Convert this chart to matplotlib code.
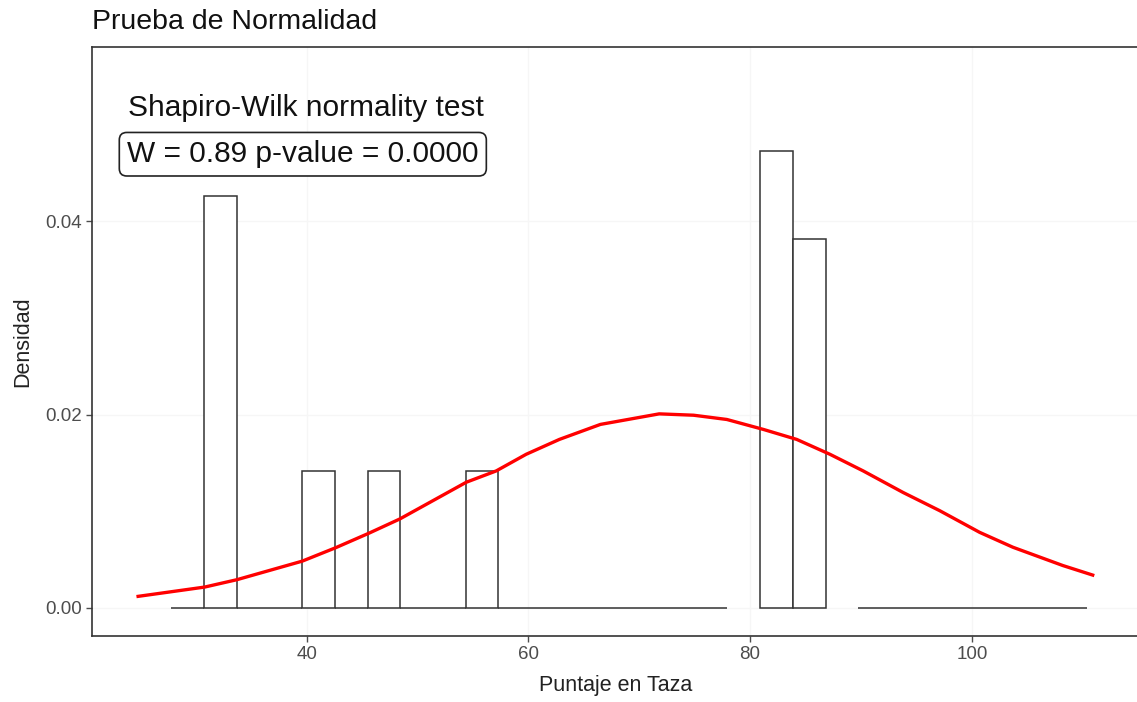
# Histograma de densidad con curva normal (prueba de normalidad)

import matplotlib
matplotlib.use("Agg")
import matplotlib.pyplot as plt
import numpy as np

# bins del histograma (ancho constante)
bin_start = 27.8
bin_width = 2.95
# densidad por bin; NaN = bin que no se dibuja
bin_density = [0.0, 0.0426, 0.0, 0.0, 0.0142, 0.0, 0.0142, 0.0, 0.0, 0.0142,
               0.0, 0.0, 0.0, 0.0, 0.0, 0.0, 0.0, np.nan, 0.0473, 0.0381,
               np.nan, 0.0, 0.0, 0.0, 0.0, 0.0, 0.0, 0.0]

# curva normal
curve_x = [24.8, 30.8, 33.7, 39.6, 42.6, 45.6, 48.4, 54.4, 57.1, 59.8, 62.8,
           66.5, 71.8, 74.9, 77.9, 81.2, 84.2, 87.2, 90.2, 93.8, 97.1, 100.7,
           103.7, 108.2, 110.9]
curve_y = [0.00120, 0.00216, 0.00292, 0.00484, 0.00622, 0.00772, 0.00920,
           0.0130, 0.01417, 0.01589, 0.01743, 0.01898, 0.02007, 0.01993,
           0.01949, 0.01846, 0.01743, 0.01589, 0.01417, 0.01194, 0.01006,
           0.00782, 0.00628, 0.00439, 0.00340]

x_ticks = [40, 60, 80, 100]
y_ticks = [0.00, 0.02, 0.04]

plt.rcParams['font.family'] = ['Liberation Sans', 'DejaVu Sans']

fig = plt.figure(figsize=(11.37, 7.02), dpi=100)
ax = fig.add_axes([0.0809, 0.094, 0.9211, 0.839])

lefts = bin_start + bin_width * np.arange(len(bin_density))
dens = np.array(bin_density)
keep = ~np.isnan(dens)
ax.bar(lefts[keep], dens[keep], width=bin_width, align='edge',
       facecolor='white', edgecolor='#333333', linewidth=1.1, zorder=2)

ax.plot(curve_x, curve_y, color='red', linewidth=2.4, zorder=3)

ax.set_xlim(20.64, 115.1)
ax.set_ylim(-0.0029, 0.0580)
ax.set_xticks(x_ticks)
ax.set_yticks(y_ticks)
ax.set_yticklabels([f"{v:.2f}" for v in y_ticks])
ax.tick_params(colors='#4d4d4d', labelsize=13.5, length=4, width=1)

ax.grid(True, color='#f6f6f6', linewidth=1)
ax.set_axisbelow(True)
for s in ax.spines.values():
    s.set_color('#333333')
    s.set_linewidth(1.2)
ax.spines['right'].set_visible(False)

ax.set_xlabel("Puntaje en Taza", fontsize=15.5, color='#222222', labelpad=8)
ax.set_ylabel("Densidad", fontsize=15.5, color='#222222', labelpad=8)
fig.text(0.081, 0.968, "Prueba de Normalidad", fontsize=20.5,
         ha='left', va='center', color='#111111')

# anotaciones del test de Shapiro-Wilk
ax.text(0.0345, 0.897, "Shapiro-Wilk normality test", transform=ax.transAxes,
        fontsize=21.5, ha='left', va='center', color='#111111')
ax.text(0.0335, 0.818, "W = 0.89 p-value = 0.0000", transform=ax.transAxes,
        fontsize=21.5, ha='left', va='center', color='#111111',
        bbox=dict(boxstyle='round,pad=0.26,rounding_size=0.25',
                  facecolor='white', edgecolor='#222222', linewidth=1.2))

fig.savefig("out.png", dpi=100)
